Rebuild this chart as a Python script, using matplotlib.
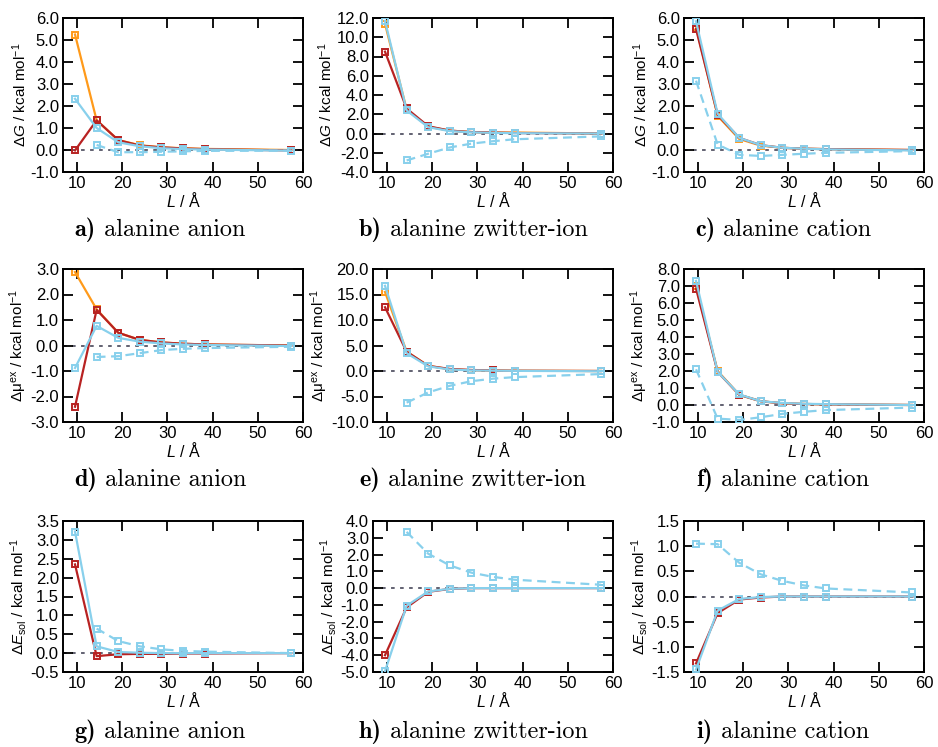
import numpy as np
import matplotlib
matplotlib.use("Agg")
import matplotlib.pyplot as plt

plt.rcParams['font.family'] = ['Liberation Sans', 'DejaVu Sans']
plt.rcParams['mathtext.fontset'] = 'custom'
plt.rcParams['mathtext.rm'] = 'Liberation Sans'
plt.rcParams['mathtext.it'] = 'Liberation Sans:italic'
plt.rcParams['mathtext.bf'] = 'Liberation Sans:bold'

# box lengths (Angstrom)
L = [9.56, 14.34, 19.12, 23.90, 28.68, 33.46, 38.24, 57.36]
nan = np.nan

# row 1: Delta G
dG_anion_orange = [5.25, 1.35, 0.45, 0.22, 0.12, 0.08, 0.05, 0.0]
dG_anion_red = [-0.02, 1.35, 0.45, 0.20, 0.12, 0.07, 0.04, -0.02]
dG_anion_blue = [2.33, 1.00, 0.35, 0.17, 0.08, 0.04, 0.02, -0.03]
dG_anion_dash = [nan, 0.23, -0.10, -0.10, -0.08, -0.06, -0.04, -0.03]

dG_zw_orange = [11.4, 2.5, 0.70, 0.30, 0.15, 0.10, 0.10, 0.0]
dG_zw_red = [8.5, 2.6, 0.75, 0.30, 0.15, 0.10, 0.05, 0.0]
dG_zw_blue = [11.7, 2.4, 0.65, 0.25, 0.12, 0.07, 0.03, 0.0]
dG_zw_dash = [nan, -2.8, -2.1, -1.45, -1.05, -0.8, -0.6, -0.3]

dG_cat_orange = [5.6, 1.55, 0.50, 0.20, 0.10, 0.06, 0.04, 0.0]
dG_cat_red = [5.5, 1.60, 0.55, 0.22, 0.10, 0.06, 0.04, 0.0]
dG_cat_blue = [5.85, 1.65, 0.55, 0.22, 0.10, 0.06, 0.03, -0.02]
dG_cat_dash = [3.15, 0.25, -0.22, -0.27, -0.22, -0.17, -0.13, -0.05]

# row 2: Delta mu^ex
dmu_anion_orange = [2.88, 1.42, 0.50, 0.22, 0.12, 0.07, 0.04, 0.0]
dmu_anion_red = [-2.4, 1.40, 0.50, 0.22, 0.12, 0.07, 0.04, 0.0]
dmu_anion_blue = [-0.88, 0.77, 0.30, 0.15, 0.08, 0.04, 0.02, -0.02]
dmu_anion_dash = [nan, -0.45, -0.42, -0.30, -0.18, -0.13, -0.10, -0.05]

dmu_zw_orange = [15.5, 3.8, 1.0, 0.35, 0.15, 0.10, 0.05, 0.0]
dmu_zw_red = [12.5, 3.8, 1.0, 0.40, 0.20, 0.10, 0.05, 0.0]
dmu_zw_blue = [16.7, 3.5, 0.9, 0.30, 0.12, 0.07, 0.03, -0.05]
dmu_zw_dash = [nan, -6.2, -4.2, -2.9, -2.0, -1.5, -1.2, -0.6]

dmu_cat_orange = [7.0, 2.0, 0.60, 0.22, 0.10, 0.06, 0.04, 0.0]
dmu_cat_red = [6.85, 1.95, 0.60, 0.22, 0.10, 0.06, 0.04, 0.0]
dmu_cat_blue = [7.3, 1.95, 0.62, 0.22, 0.12, 0.07, 0.05, 0.0]
dmu_cat_dash = [2.1, -0.8, -0.88, -0.72, -0.52, -0.40, -0.30, -0.15]

# row 3: Delta E_sol (no orange series)
dE_anion_red = [2.35, -0.08, -0.03, -0.02, -0.02, -0.01, -0.01, 0.0]
dE_anion_blue = [3.22, 0.18, 0.03, 0.01, 0.0, 0.0, 0.0, 0.0]
dE_anion_dash = [nan, 0.65, 0.32, 0.18, 0.10, 0.06, 0.04, 0.0]

dE_zw_red = [-4.0, -1.15, -0.22, -0.05, 0.0, 0.0, 0.0, 0.0]
dE_zw_blue = [-4.95, -1.05, -0.20, -0.04, 0.0, 0.0, 0.0, 0.0]
dE_zw_dash = [nan, 3.35, 2.05, 1.35, 0.92, 0.67, 0.50, 0.20]

dE_cat_red = [-1.33, -0.33, -0.06, -0.02, 0.0, 0.0, 0.0, 0.0]
dE_cat_blue = [-1.45, -0.28, -0.05, -0.01, 0.0, 0.0, 0.0, 0.0]
dE_cat_dash = [1.05, 1.04, 0.67, 0.44, 0.31, 0.22, 0.16, 0.08]

captions = ['alanine anion', 'alanine zwitter-ion', 'alanine cation']
letters = ['a', 'b', 'c', 'd', 'e', 'f', 'g', 'h', 'i']
ylabels = [r'$\Delta G$ / kcal mol$^{-1}$',
           r'$\Delta\mathrm{\mu}^{\mathrm{ex}}$ / kcal mol$^{-1}$',
           r'$\Delta E_{\mathrm{sol}}$ / kcal mol$^{-1}$']

panels = [
    [(dG_anion_orange, dG_anion_red, dG_anion_blue, dG_anion_dash, (-1, 6, 1.0)),
     (dG_zw_orange, dG_zw_red, dG_zw_blue, dG_zw_dash, (-4, 12, 2.0)),
     (dG_cat_orange, dG_cat_red, dG_cat_blue, dG_cat_dash, (-1, 6, 1.0))],
    [(dmu_anion_orange, dmu_anion_red, dmu_anion_blue, dmu_anion_dash, (-3, 3, 1.0)),
     (dmu_zw_orange, dmu_zw_red, dmu_zw_blue, dmu_zw_dash, (-10, 20, 5.0)),
     (dmu_cat_orange, dmu_cat_red, dmu_cat_blue, dmu_cat_dash, (-1, 8, 1.0))],
    [(None, dE_anion_red, dE_anion_blue, dE_anion_dash, (-0.5, 3.5, 0.5)),
     (None, dE_zw_red, dE_zw_blue, dE_zw_dash, (-5, 4, 1.0)),
     (None, dE_cat_red, dE_cat_blue, dE_cat_dash, (-1.5, 1.5, 0.5))],
]

ORANGE = '#ff9a1a'
RED = '#b82222'
BLUE = '#88d0ec'

W, H = 938, 747
fig = plt.figure(figsize=(W / 100, H / 100), dpi=100)
renderer = fig.canvas.get_renderer()

col_left = [63, 373, 684]
col_w = 240
row_top = [18, 269, 521]
row_h = [154, 153, 151]
cap_x = [160, 473, 783]
cap_y = [230, 480, 732]

for r in range(3):
    for c in range(3):
        orange, red, blue, dash, (y0, y1, step) = panels[r][c]
        ax = fig.add_axes([col_left[c] / W, 1 - (row_top[r] + row_h[r]) / H,
                           col_w / W, row_h[r] / H])
        ax.axhline(0, color='#555566', ls=(0, (2, 3)), lw=1.3, zorder=1)
        kw = dict(marker='s', ms=5, mfc='none', mew=1.4, lw=1.6)
        if orange is not None:
            ax.plot(L, orange, color=ORANGE, zorder=2, **kw)
        ax.plot(L, red, color=RED, zorder=3, **kw)
        ax.plot(L, blue, color=BLUE, zorder=4, **kw)
        ax.plot(L, dash, color=BLUE, ls=(0, (4, 2.5)), zorder=4, **kw)
        ax.set_xlim(6.9, 60)
        ax.set_ylim(y0, y1)
        ax.set_xticks([10, 20, 30, 40, 50, 60])
        ax.set_yticks(np.arange(y0, y1 + step / 2, step))
        ax.yaxis.set_major_formatter(plt.FormatStrFormatter('%.1f'))
        ax.tick_params(direction='in', top=True, right=True, length=7,
                       width=1.3, labelsize=12, pad=3)
        for s in ax.spines.values():
            s.set_linewidth(1.4)
        ax.set_xlabel(r'$L$ / Å', fontsize=11.5, labelpad=0)
        ax.set_ylabel(ylabels[r], fontsize=11, labelpad=1)

        # caption: bold "x)" in cmb10 followed by regular text in cmr10
        t1 = fig.text(0, 0, letters[3 * r + c] + ')', family='cmb10',
                      fontsize=17.5, va='center', ha='left')
        t2 = fig.text(0, 0, ' ' + captions[c], family='cmr10',
                      fontsize=17.5, va='center', ha='left')
        w1 = t1.get_window_extent(renderer).width
        w2 = t2.get_window_extent(renderer).width
        x0 = cap_x[c] - (w1 + w2) / 2
        yy = 1 - cap_y[r] / H
        t1.set_position((x0 / W, yy))
        t2.set_position(((x0 + w1) / W, yy))

fig.savefig('out.png', dpi=100)
